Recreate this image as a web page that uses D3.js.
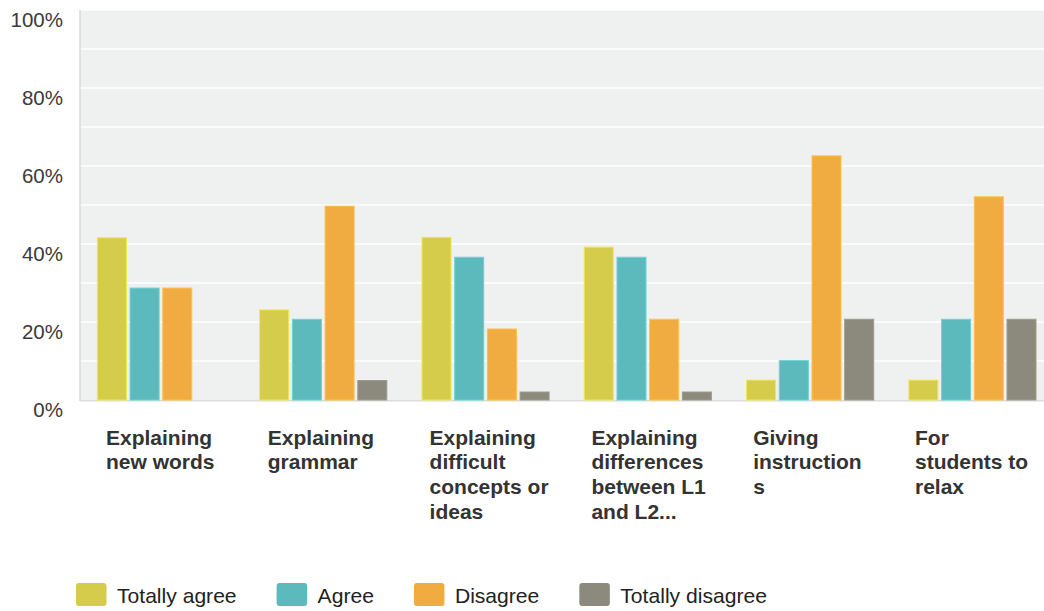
<!DOCTYPE html>
<html>
<head>
<meta charset="utf-8">
<script src="https://cdn.jsdelivr.net/npm/d3@7"></script>
<style>
  html, body { margin: 0; padding: 0; background: #ffffff; }
  svg { display: block; font-family: "Liberation Sans", Arial, Helvetica, sans-serif; }
</style>
</head>
<body>
<svg id="chart" width="1044" height="611"></svg>
<script>
// Survey responses: how the first language is used in class (percent of respondents)
const categories = [
  ["Explaining", "new words"],
  ["Explaining", "grammar"],
  ["Explaining", "difficult", "concepts or", "ideas"],
  ["Explaining", "differences", "between L1", "and L2..."],
  ["Giving", "instruction", "s"],
  ["For", "students to", "relax"]
];
const seriesNames = ["Totally agree", "Agree", "Disagree", "Totally disagree"];
const totallyAgree    = [41.6, 23.1, 41.7, 39.2, 5.1, 5.1];
const agree           = [28.7, 20.7, 36.6, 36.6, 10.1, 20.7];
const disagree        = [28.7, 49.7, 18.2, 20.7, 62.6, 52.1];
const totallyDisagree = [0, 5.0, 2.05, 2.05, 20.7, 20.7];
const yTicks = [0, 20, 40, 60, 80, 100];
const yGrid = [10, 20, 30, 40, 50, 60, 70, 80, 90, 100];
const colors = ["#d4cc4a", "#5cbabd", "#f0ab41", "#8b8a7c"];

const seriesValues = [totallyAgree, agree, disagree, totallyDisagree];
const catKeys = categories.map(c => c.join(" "));

const svg = d3.select("#chart");
const plot = { left: 80, top: 10, bottom: 400, right: 1044 };

const x0 = d3.scaleBand().domain(catKeys).range([plot.left, plot.left + 6 * 162.3]).padding(0);
const x1 = d3.scaleBand().domain(seriesNames).range([17.4, 144.5]).paddingInner(0.113).paddingOuter(0);
const xLabel = d3.scalePoint().domain(catKeys).range([106, 915]);
const y = d3.scaleLinear().domain([0, 100]).range([plot.bottom, plot.top]);

// plot background
svg.append("rect")
  .attr("x", plot.left).attr("y", plot.top)
  .attr("width", plot.right - plot.left).attr("height", plot.bottom - plot.top)
  .attr("fill", "#eff0f0");

// horizontal gridlines
svg.append("g").selectAll("line").data(yGrid).join("line")
  .attr("x1", plot.left).attr("x2", plot.right)
  .attr("y1", d => y(d)).attr("y2", d => y(d))
  .attr("stroke", "#ffffff").attr("stroke-width", 1.6);

// axis lines
svg.append("line")
  .attr("x1", plot.left).attr("x2", plot.left)
  .attr("y1", plot.top).attr("y2", plot.bottom + 1)
  .attr("stroke", "#d9dada").attr("stroke-width", 1.5);
svg.append("line")
  .attr("x1", plot.left).attr("x2", plot.right)
  .attr("y1", plot.bottom + 0.8).attr("y2", plot.bottom + 0.8)
  .attr("stroke", "#dcdcdc").attr("stroke-width", 1.6);

// y tick labels (sit just below their gridline)
svg.append("g").selectAll("text").data(yTicks).join("text")
  .attr("x", 63).attr("y", d => y(d) + 16.5)
  .attr("text-anchor", "end")
  .attr("font-size", 20.5)
  .attr("fill", "#3a3a3a")
  .text(d => d + "%");

// bars
const groups = svg.append("g").selectAll("g").data(catKeys).join("g")
  .attr("transform", d => `translate(${x0(d)},0)`);
groups.selectAll("rect")
  .data((d, i) => seriesNames.map((s, j) => ({ s, v: seriesValues[j][i], c: colors[j] })))
  .join("rect")
  .filter(d => d.v > 0)
  .attr("x", d => x1(d.s))
  .attr("y", d => y(d.v))
  .attr("width", x1.bandwidth())
  .attr("height", d => y(0) - y(d.v))
  .attr("fill", d => d.c)
  .attr("stroke", d => d3.color(d.c).brighter(0.35))
  .attr("stroke-width", 1);

// category labels, wrapped
const labels = svg.append("g").selectAll("text").data(categories).join("text")
  .attr("x", (d, i) => xLabel(catKeys[i]))
  .attr("y", 444.5)
  .attr("font-size", 21)
  .attr("font-weight", "bold")
  .attr("fill", "#333333");
labels.selectAll("tspan").data(d => d).join("tspan")
  .attr("x", function () { return this.parentNode.getAttribute("x"); })
  .attr("dy", (d, i) => i === 0 ? 0 : 24.8)
  .text(d => d);

// legend
const legend = svg.append("g");
let lx = 76;
seriesNames.forEach((name, i) => {
  legend.append("rect")
    .attr("x", lx).attr("y", 583)
    .attr("width", 30.5).attr("height", 23)
    .attr("rx", 3).attr("fill", colors[i]);
  const t = legend.append("text")
    .attr("x", lx + 41).attr("y", 602.5)
    .attr("font-size", 21.1)
    .attr("fill", "#222222")
    .text(name);
  lx = lx + 41 + t.node().getComputedTextLength() + 40;
});
</script>
</body>
</html>
